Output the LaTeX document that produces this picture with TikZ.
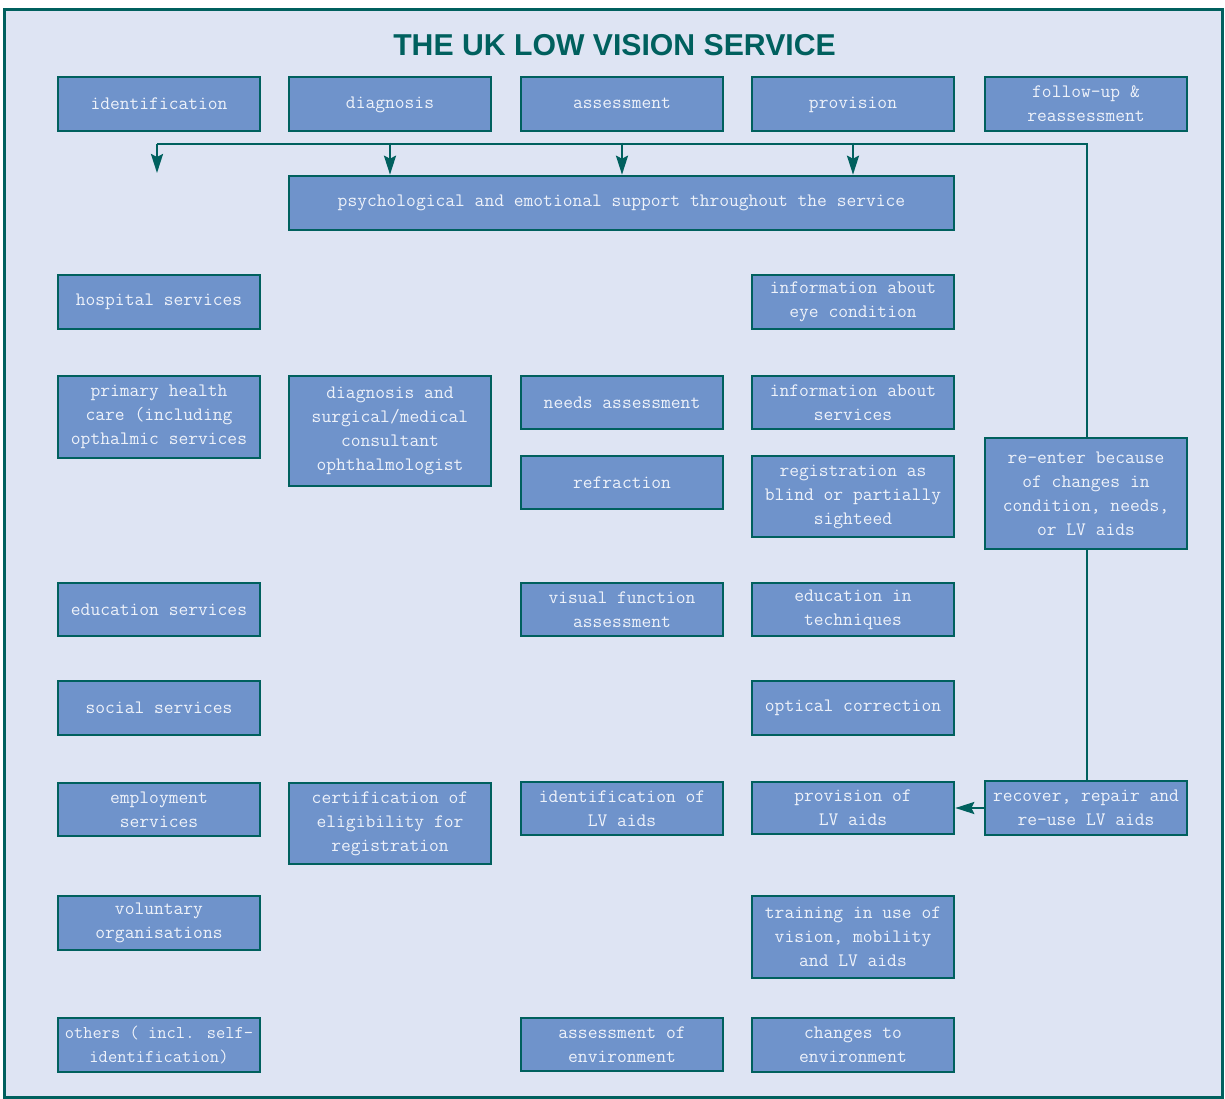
\documentclass[tikz,border=0pt]{standalone}
\usepackage{fontspec}
\newfontfamily\titlefont{Liberation Sans}
\usetikzlibrary{arrows.meta}
\definecolor{teal}{HTML}{00605E}
\definecolor{boxfill}{HTML}{6F93CB}
\definecolor{panel}{HTML}{DEE4F3}
\definecolor{boxtext}{HTML}{EEF2FA}
\tikzset{
  stagebox/.style={draw=teal, line width=2.6pt, fill=boxfill, text=boxtext,
    font=\ttfamily\fontsize{19}{24}\selectfont, align=center,
    minimum width=202pt, inner sep=1pt},
  flow/.style={draw=teal, line width=2.4pt},
  flowarrow/.style={flow, -{Stealth[length=19pt,width=12pt,inset=3pt]}},
}
\begin{document}
\begin{tikzpicture}[x=1pt,y=-1pt]
\useasboundingbox (0,0) rectangle (1225,1099);
\draw[teal, line width=3pt, fill=panel] (4,10) rectangle (1222,1097);
\node[text=teal, font=\titlefont\bfseries\fontsize{30.2}{32}\selectfont] (title) at (614.5,45) {THE UK LOW VISION SERVICE};

% stages of the service
\node[stagebox, minimum height=54pt] (ident) at (159,104) {identification};
\node[stagebox, minimum height=54pt] (diag) at (390,104) {\strut diagnosis};
\node[stagebox, minimum height=54pt] (assess) at (622,104) {\strut assessment};
\node[stagebox, minimum height=54pt] (prov) at (853,104) {\strut provision};
\node[stagebox, minimum height=54pt] (follow) at (1086,104) {follow-up \&\\reassessment};

\node[stagebox, minimum width=665pt, minimum height=54pt] (psych) at (621.5,203) {psychological and emotional support throughout the service};

% identification column
\node[stagebox, minimum height=54pt] (hosp) at (159,302) {hospital services};
\node[stagebox, minimum height=82pt] (primary) at (159,417) {primary health\\care (including\\opthalmic services};
\node[stagebox, minimum height=53pt] (edus) at (159,609.5) {education services};
\node[stagebox, minimum height=54pt] (social) at (159,708) {social services};
\node[stagebox, minimum height=53pt] (employ) at (159,809.5) {employment\\services};
\node[stagebox, minimum height=54pt] (volun) at (159,923) {voluntary\\organisations};
\node[stagebox, minimum height=54pt, font=\ttfamily\fontsize{18}{24}\selectfont] (others) at (159,1045) {others ( incl. self-\\identification)};

% diagnosis column
\node[stagebox, minimum height=110pt] (diagsurg) at (390,431) {diagnosis and\\surgical/medical\\consultant\\ophthalmologist};
\node[stagebox, minimum height=81pt] (cert) at (390,823.5) {certification of\\eligibility for\\registration};

% assessment column
\node[stagebox, minimum height=53pt] (needs) at (622,402.5) {needs assessment};
\node[stagebox, minimum height=53pt] (refr) at (622,482.5) {refraction};
\node[stagebox, minimum height=53pt] (visual) at (622,609.5) {visual function\\assessment};
\node[stagebox, minimum height=53pt] (idaids) at (622,808.5) {identification of\\LV aids};
\node[stagebox, minimum height=53pt] (assenv) at (622,1044.5) {assessment of\\environment};

% provision column
\node[stagebox, minimum height=54pt] (infoeye) at (853,302) {information about\\eye condition};
\node[stagebox, minimum height=53pt] (infoserv) at (853,402.5) {information about\\services};
\node[stagebox, minimum height=81pt] (regist) at (853,496.5) {registration as\\blind or partially\\sighteed};
\node[stagebox, minimum height=53pt] (eduth) at (853,609.5) {education in\\techniques};
\node[stagebox, minimum height=54pt] (optic) at (853,708) {optical correction};
\node[stagebox, minimum height=52pt] (provaids) at (853,808) {provision of\\LV aids};
\node[stagebox, minimum height=82pt] (train) at (853,937) {training in use of\\vision, mobility\\and LV aids};
\node[stagebox, minimum height=54pt] (chenv) at (853,1045) {changes to\\environment};

% follow-up column
\node[stagebox, minimum height=111pt] (reenter) at (1086,493.5) {re-enter because\\of changes in\\condition, needs,\\or LV aids};
\node[stagebox, minimum height=54pt] (recover) at (1086,808) {recover, repair and\\re-use LV aids};

% feedback loop back into the service
\coordinate (topright) at (1087,144);
\coordinate (topleft) at (157,144);
\coordinate (identend) at (157,173);
\draw[flow] (reenter.north -| topright) -- (topright) -- (topleft);
\draw[flowarrow] (topleft) -- (identend);
\draw[flowarrow] (psych.north -| diag) ++(0,-32) -- (psych.north -| diag);
\draw[flowarrow] (psych.north -| assess) ++(0,-32) -- (psych.north -| assess);
\draw[flowarrow] (psych.north -| prov) ++(0,-32) -- (psych.north -| prov);
\draw[flow] (reenter.south -| topright) -- (recover.north -| topright);
\draw[flowarrow] (recover.west) -- (provaids.east);
\end{tikzpicture}
\end{document}
